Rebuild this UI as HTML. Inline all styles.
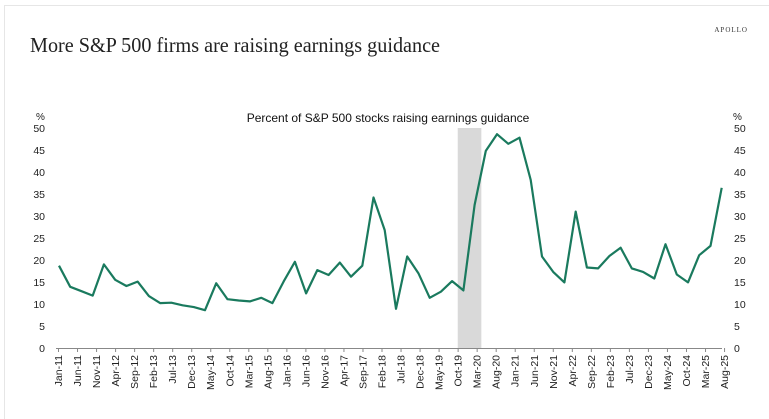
<!DOCTYPE html>
<html><head><meta charset="utf-8"><style>
html,body{margin:0;padding:0;background:#fff;}
svg{display:block;font-family:"Liberation Sans",sans-serif;}
</style></head><body>
<svg id="chart" width="769" height="419" xmlns="http://www.w3.org/2000/svg">
<rect x="4.5" y="5.5" width="770" height="420" fill="none" stroke="#e6e6e6"/>
<text x="748" y="32" text-anchor="end" font-family="Liberation Serif, serif" font-size="7" letter-spacing="1" fill="#333">APOLLO</text>
<text x="30" y="52" font-family="Liberation Serif, serif" font-size="21" fill="#222" textLength="410" lengthAdjust="spacingAndGlyphs">More S&amp;P 500 firms are raising earnings guidance</text>
<text x="388" y="122" text-anchor="middle" font-size="12" fill="#111">Percent of S&amp;P 500 stocks raising earnings guidance</text>
<text x="36" y="120" font-size="10" fill="#222">%</text>
<text x="733" y="120" font-size="10" fill="#222">%</text>
<g id="band"></g>
<g id="axes"></g>
<g id="series"></g>
</svg>
<script>
const values = [18.7,13.9,12.9,11.9,19.0,15.5,14.1,15.1,11.8,10.2,10.3,9.7,9.3,8.6,14.7,11.1,10.8,10.6,11.4,10.2,15.1,19.6,12.4,17.7,16.6,19.4,16.2,18.7,34.2,26.8,8.9,20.8,17.0,11.4,12.8,15.2,13.1,32.5,44.8,48.6,46.4,47.8,38.2,20.8,17.3,14.9,31.0,18.3,18.1,20.9,22.8,18.1,17.3,15.8,23.6,16.7,14.9,21.1,23.2,36.4];
const tickLabels = ["Jan-11","Jun-11","Nov-11","Apr-12","Sep-12","Feb-13","Jul-13","Dec-13","May-14","Oct-14","Mar-15","Aug-15","Jan-16","Jun-16","Nov-16","Apr-17","Sep-17","Feb-18","Jul-18","Dec-18","May-19","Oct-19","Mar-20","Aug-20","Jan-21","Jun-21","Nov-21","Apr-22","Sep-22","Feb-23","Jul-23","Dec-23","May-24","Oct-24","Mar-25","Aug-25"];
const yTicks = [0,5,10,15,20,25,30,35,40,45,50];
const recession = [35.5, 37.6];
const NS="http://www.w3.org/2000/svg";
const PX0=59, PXP=11.232, LX0=58.5, LXS=19.03, Y0=348, PXU=4.4;
const xp = i => PX0 + i*PXP;
const xl = k => LX0 + k*LXS;
const y = v => Y0 - v*PXU;
function mk(tag, attrs, parent){const e=document.createElementNS(NS,tag);for(const k in attrs)e.setAttribute(k,attrs[k]);parent.appendChild(e);return e;}
const axes=document.getElementById('axes'), series=document.getElementById('series'), band=document.getElementById('band');
const b=mk('rect',{x:xp(recession[0]),y:y(50),width:xp(recession[1])-xp(recession[0]),height:y(0)-y(50),fill:'#d9d9d9'},band);


const base=mk('line',{x1:56,x2:722,y1:Y0+0.5,y2:Y0+0.5,stroke:'#888','stroke-width':1},axes);


yTicks.forEach(v=>{
  const l=mk('text',{x:45,y:y(v)+4,'text-anchor':'end','font-size':10.5,fill:'#222'},axes);l.textContent=v;
  
  
  const r=mk('text',{x:734,y:y(v)+4,'font-size':10.5,fill:'#222'},axes);r.textContent=v;
  
  
});
tickLabels.forEach((t,i)=>{
  const x=xl(i);
  const tk=mk('line',{x1:x,x2:x,y1:Y0,y2:Y0+4,stroke:'#888'},axes);
  
  
  const tx=mk('text',{x:0,y:0,'text-anchor':'end','font-size':10.5,fill:'#222',transform:`translate(${x+3.5},${Y0+7}) rotate(-90)`},axes);
  tx.textContent=t;
  
  
});
const pts=values.map((v,i)=>xp(i).toFixed(1)+','+y(v).toFixed(1)).join(' ');
const pl=mk('polyline',{points:pts,fill:'none',stroke:'#1a7a5e','stroke-width':2.2,'stroke-linejoin':'round'},series);


</script>
</body></html>
